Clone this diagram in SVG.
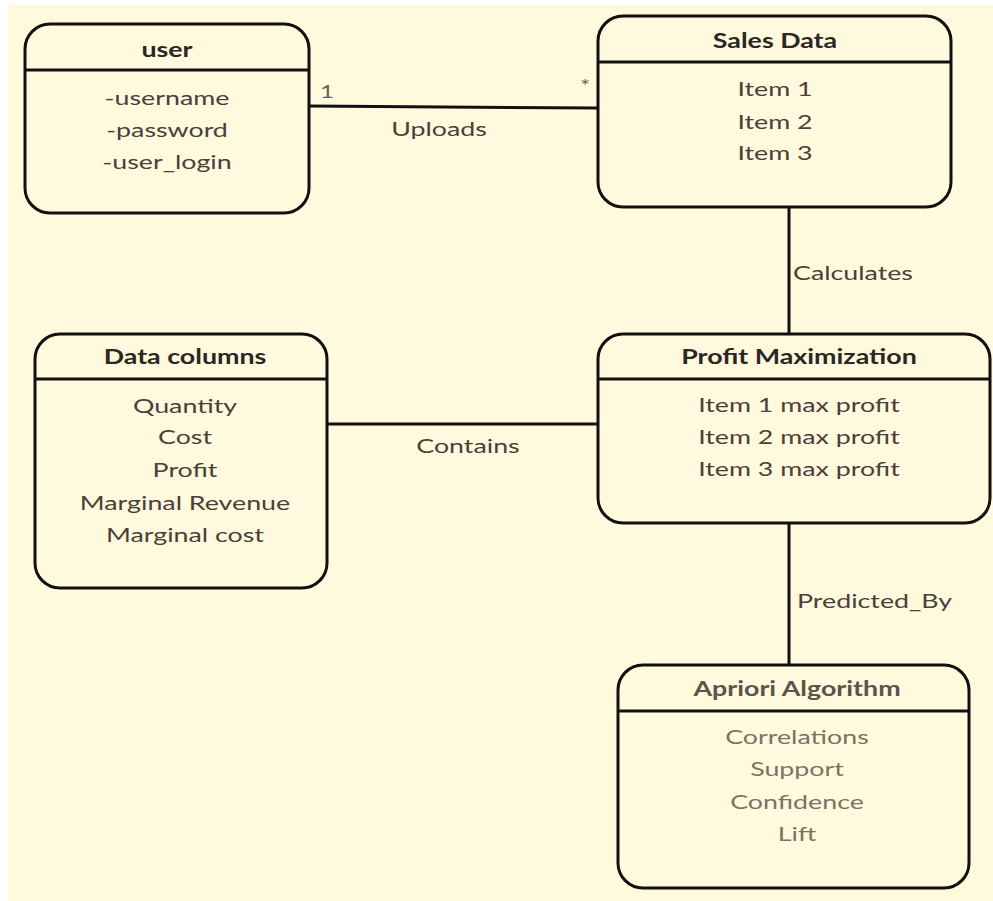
<svg xmlns="http://www.w3.org/2000/svg" width="993" height="901" viewBox="0 0 993 901">
  <style>
    .box { fill: #FFFADD; stroke: #111; stroke-width: 3; }
    .div { stroke: #111; stroke-width: 3; }
    .link { stroke: #111; stroke-width: 3; fill: none; }
    text { font-family: Lato, "Open Sans", "Liberation Sans", sans-serif; font-size: 20px; }
    .title { font-weight: bold; fill: #2b2724; text-anchor: middle; }
    .item { fill: #4a4039; text-anchor: middle; }
    .lbl { fill: #4a4039; }
    .mid { text-anchor: middle; }
    .mult { fill: #6b5f55; font-size: 18px; }
    .soft-title { font-weight: bold; fill: #5e524a; text-anchor: middle; }
    .soft-item { fill: #7f7064; text-anchor: middle; }
  </style>

  <rect x="0" y="0" width="993" height="901" fill="#ffffff"/>
  <rect x="8" y="5" width="985" height="896" fill="#FFFADD"/>

  <!-- connectors; all text is set slightly wide (scale 1.34 on x) -->
  <g id="connectors">
    <line class="link" x1="309" y1="106" x2="598" y2="108"/>
    <text class="mult" transform="translate(320 98) scale(1.34 1)">1</text>
    <text class="mult" transform="translate(580 92) scale(1.34 1)">*</text>
    <text class="lbl mid" transform="translate(439 136) scale(1.34 1)">Uploads</text>

    <line class="link" x1="789" y1="207" x2="789" y2="334"/>
    <text class="lbl" transform="translate(793 280) scale(1.34 1)">Calculates</text>

    <line class="link" x1="327" y1="424" x2="598" y2="424"/>
    <text class="lbl mid" transform="translate(468 453) scale(1.34 1)">Contains</text>

    <line class="link" x1="789" y1="518" x2="789" y2="665"/>
    <text class="lbl" transform="translate(797 608) scale(1.34 1)">Predicted_By</text>
  </g>

  <!-- user -->
  <g id="user">
    <rect class="box" x="25" y="24" width="284" height="189" rx="25"/>
    <line class="div" x1="25" y1="70" x2="309" y2="70"/>
    <text class="title" transform="translate(167 57) scale(1.34 1)">user</text>
    <text class="item" transform="translate(167 105) scale(1.34 1)">-username</text>
    <text class="item" transform="translate(167 137) scale(1.34 1)">-password</text>
    <text class="item" transform="translate(167 169) scale(1.34 1)">-user_login</text>
  </g>

  <!-- Sales Data -->
  <g id="sales-data">
    <rect class="box" x="598" y="16" width="353" height="191" rx="25"/>
    <line class="div" x1="598" y1="62" x2="951" y2="62"/>
    <text class="title" transform="translate(775 48) scale(1.34 1)">Sales Data</text>
    <text class="item" transform="translate(775 96) scale(1.34 1)">Item 1</text>
    <text class="item" transform="translate(775 129) scale(1.34 1)">Item 2</text>
    <text class="item" transform="translate(775 160) scale(1.34 1)">Item 3</text>
  </g>

  <!-- Data columns -->
  <g id="data-columns">
    <rect class="box" x="35" y="334" width="292" height="254" rx="25"/>
    <line class="div" x1="35" y1="379" x2="327" y2="379"/>
    <text class="title" transform="translate(185 364) scale(1.34 1)">Data columns</text>
    <text class="item" transform="translate(185 413) scale(1.34 1)">Quantity</text>
    <text class="item" transform="translate(185 444) scale(1.34 1)">Cost</text>
    <text class="item" transform="translate(185 477) scale(1.34 1)">Profit</text>
    <text class="item" transform="translate(185 510) scale(1.34 1)">Marginal Revenue</text>
    <text class="item" transform="translate(185 542) scale(1.34 1)">Marginal cost</text>
  </g>

  <!-- Profit Maximization -->
  <g id="profit-maximization">
    <rect class="box" x="598" y="334" width="392" height="189" rx="25"/>
    <line class="div" x1="598" y1="379" x2="990" y2="379"/>
    <text class="title" transform="translate(799 364) scale(1.34 1)">Profit Maximization</text>
    <text class="item" transform="translate(799 412) scale(1.34 1)">Item 1 max profit</text>
    <text class="item" transform="translate(799 444) scale(1.34 1)">Item 2 max profit</text>
    <text class="item" transform="translate(799 476) scale(1.34 1)">Item 3 max profit</text>
  </g>

  <!-- Apriori Algorithm -->
  <g id="apriori-algorithm">
    <rect class="box" x="618" y="665" width="351" height="223" rx="25"/>
    <line class="div" x1="618" y1="711" x2="969" y2="711"/>
    <text class="soft-title" transform="translate(797 696) scale(1.34 1)">Apriori Algorithm</text>
    <text class="soft-item" transform="translate(797 744) scale(1.34 1)">Correlations</text>
    <text class="soft-item" transform="translate(797 776) scale(1.34 1)">Support</text>
    <text class="soft-item" transform="translate(797 809) scale(1.34 1)">Confidence</text>
    <text class="soft-item" transform="translate(797 841) scale(1.34 1)">Lift</text>
  </g>
</svg>
